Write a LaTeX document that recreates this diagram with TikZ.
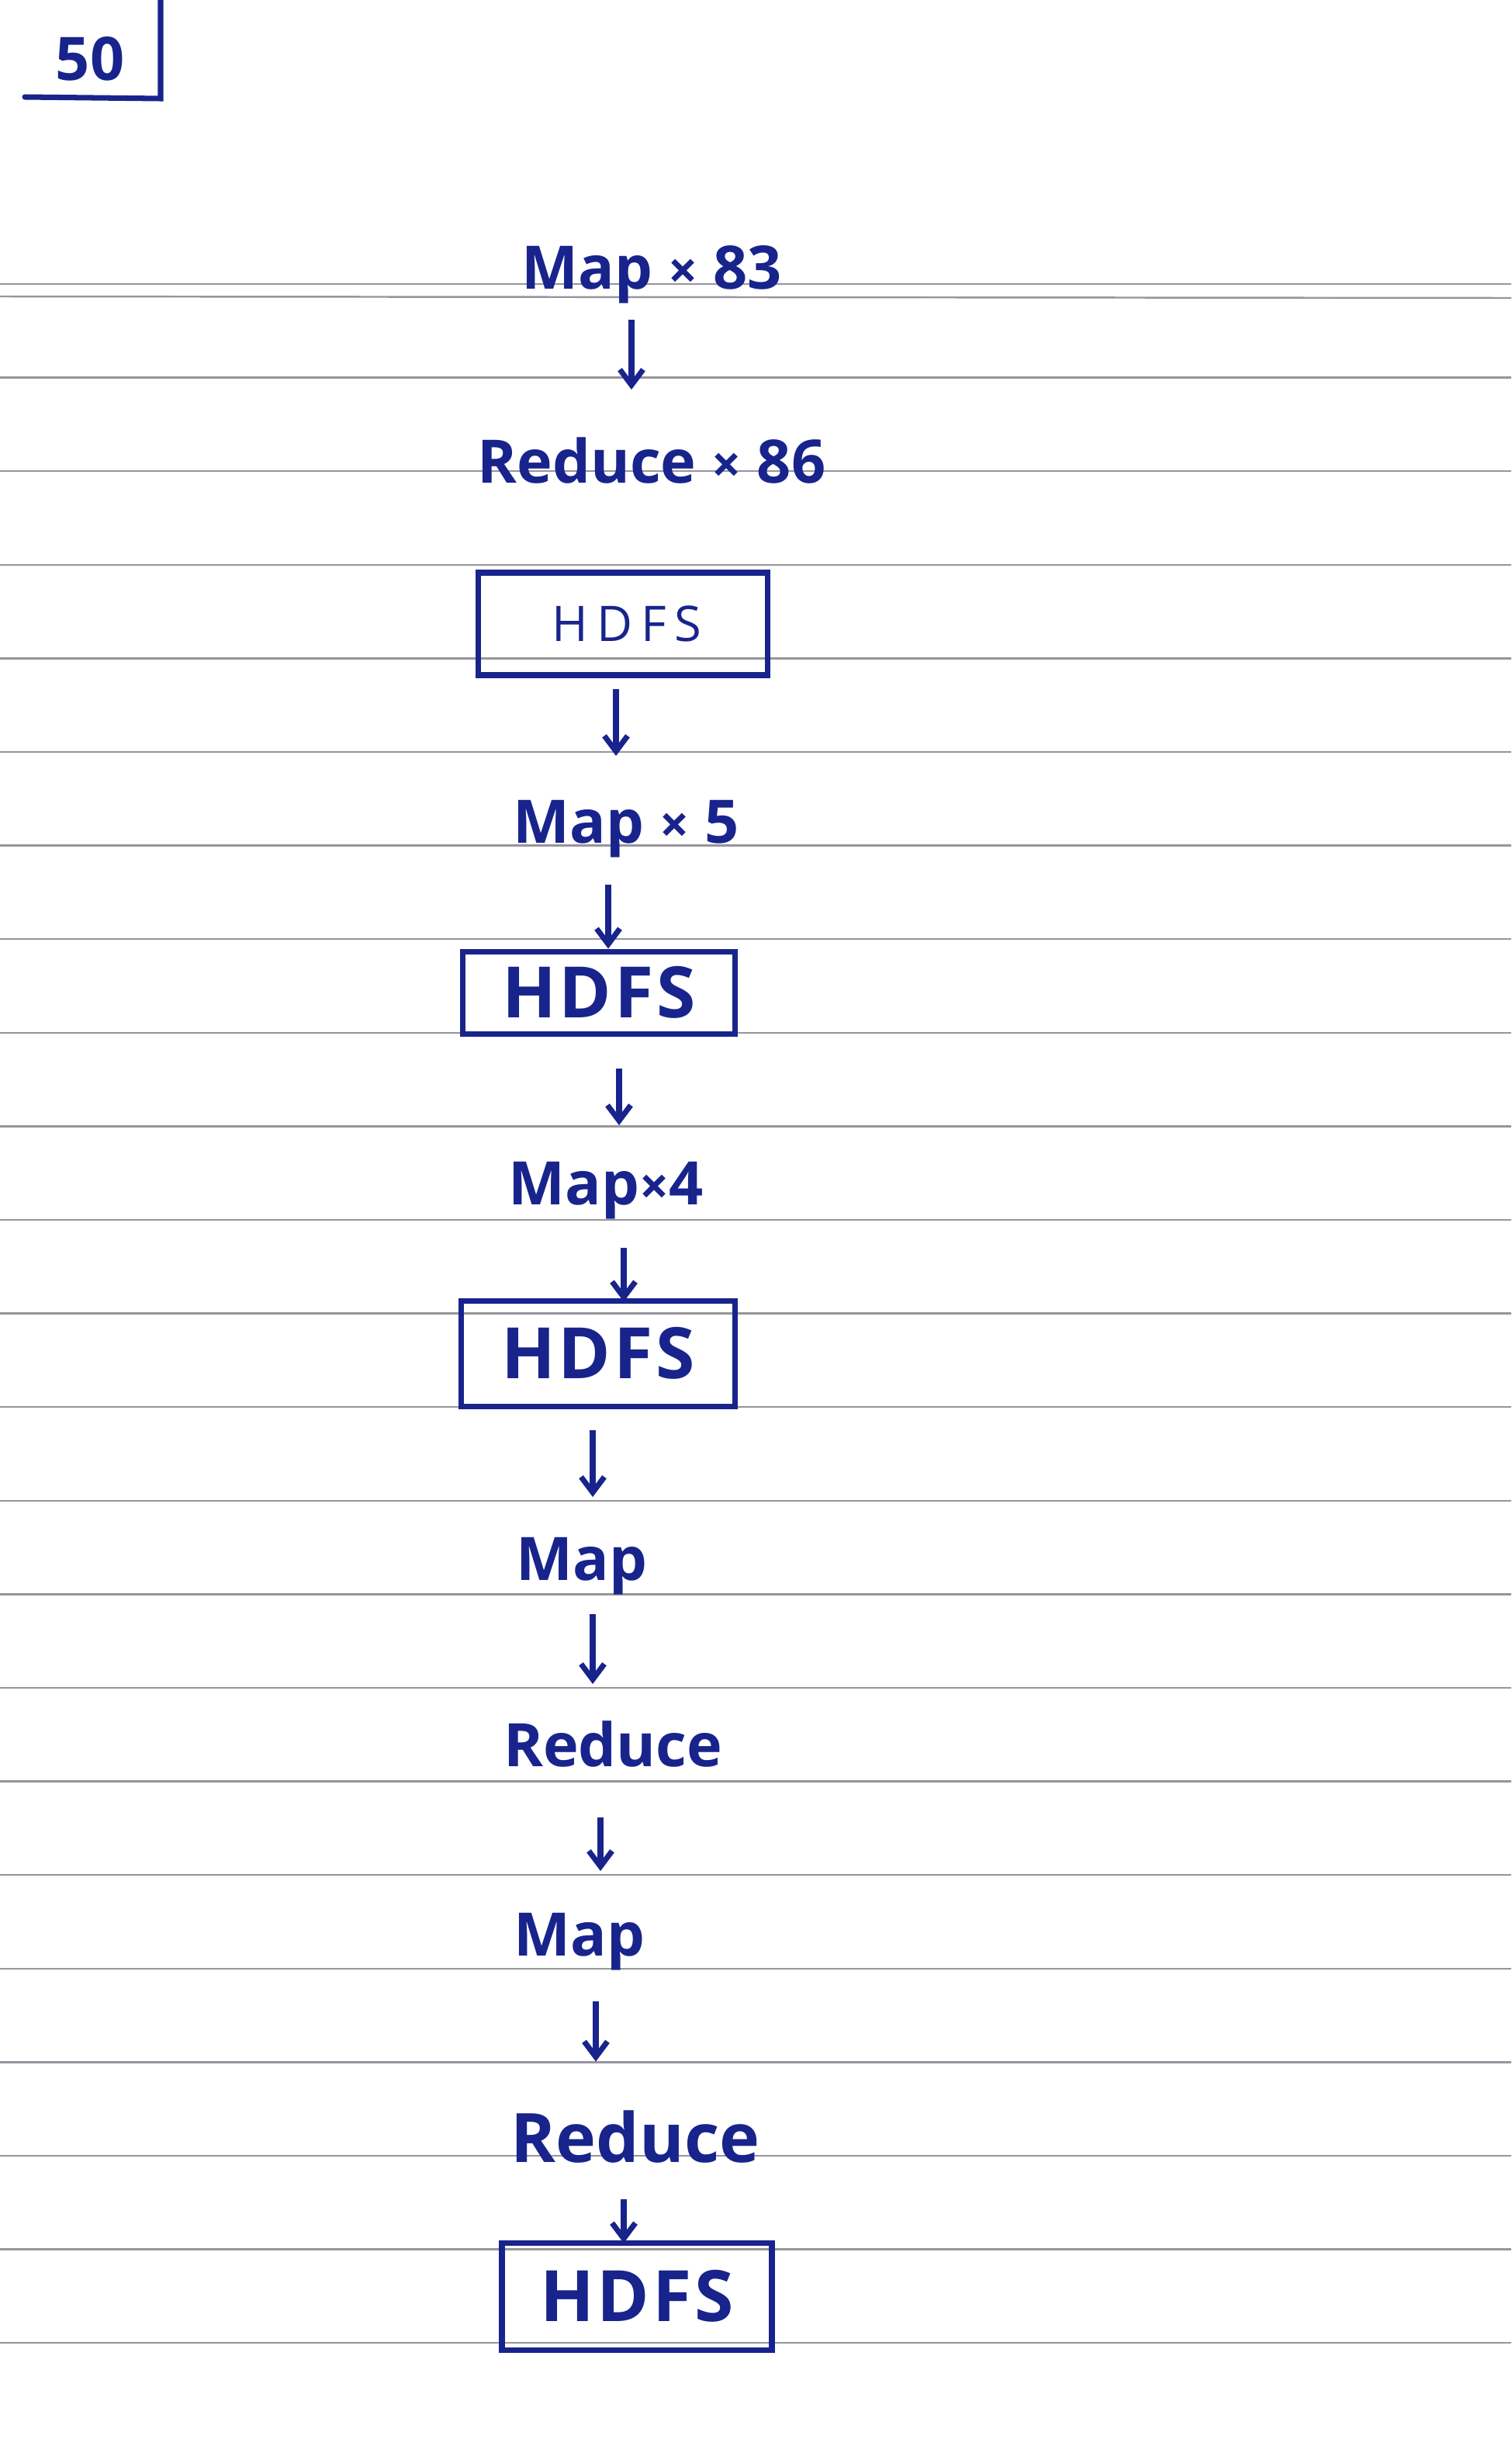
\documentclass[tikz,border=0pt]{standalone}
\usepackage{fontspec}
\setmainfont{Open Sans}
\usepackage{tikz}
\usetikzlibrary{arrows.meta,calc,positioning}
\definecolor{inkblue}{RGB}{24,36,140}
\definecolor{rulegrey}{RGB}{150,148,156}
\newcommand{\tms}{{\fontsize{19}{19}\selectfont\bfseries ×}}
\tikzset{
  steptext/.style={text=inkblue,font=\fontsize{22}{26}\selectfont\bfseries,anchor=base,
    inner sep=0pt,text height=16pt,text depth=5pt},
  hdfsbox/.style={draw=inkblue,line width=2pt,text=inkblue,
    font=\fontsize{26}{30}\selectfont\bfseries\addfontfeatures{LetterSpace=4},inner sep=0pt},
  flowarrow/.style={draw=inkblue,line width=2pt,-{Straight Barb[length=2mm,width=3mm,line width=2pt]}},
  ruleline/.style={draw=rulegrey,line width=0.7pt}
}

\begin{document}
\begin{tikzpicture}
  \useasboundingbox (0,0) rectangle (19.48,-31.52);

  % --- Ruled paper ---
  \foreach \i in {0,...,22}
    \draw[ruleline] (0,{-3.66-1.206*\i}) -- (19.48,{-3.66-1.206*\i});
  \draw[ruleline] (0,-3.82) -- (19.48,-3.84);

  % --- Page number corner ---
  \node[text=inkblue,font=\fontsize{22}{26}\selectfont\bfseries] (page) at (1.16,-0.76) {50};
  \draw[draw=inkblue,line width=2pt,line cap=round]
    (0.32,-1.25) -- (2.07,-1.27) -- (2.07,0);

  % --- Job chain ---
  \node[steptext] (m1) at (8.40,-3.72) {Map \tms\ 83};
  \node[steptext] (r1) at (8.40,-6.22) {Reduce \tms\ 86};

  \node[hdfsbox,minimum width=3.73cm,minimum height=1.32cm,
    font=\fontsize{18}{22}\selectfont\mdseries\addfontfeatures{LetterSpace=17}] (h1) at (8.03,-8.04) {\hspace{0.1cm}HDFS};

  \node[steptext] (m2) at (8.07,-10.86) {Map \tms\ 5};

  \node[hdfsbox,minimum width=3.51cm,minimum height=1.06cm] (h2) at (7.72,-12.79) {HDFS};

  \node[steptext] (m3) at (7.81,-15.52) {Map\tms4};

  \node[hdfsbox,minimum width=3.53cm,minimum height=1.36cm] (h3) at (7.71,-17.44) {HDFS};

  \node[steptext] (m4) at (7.50,-20.36) {Map};
  \node[steptext] (r2) at (7.90,-22.76) {Reduce};
  \node[steptext] (m5) at (7.47,-25.20) {Map};
  \node[steptext,font=\fontsize{25}{29}\selectfont\bfseries,text height=19pt] (r3) at (8.19,-27.86) {Reduce};

  \node[hdfsbox,minimum width=3.48cm,minimum height=1.38cm] (h4) at (8.21,-29.59) {HDFS};

  % --- Arrows between steps ---
  \draw[flowarrow,shorten <=0.22cm,shorten >=0.63cm]
    ($(m1.south)+(-0.26,0)$) -- ($(m1.south |- r1.north)+(-0.26,0)$);
  \draw[flowarrow,shorten <=0.14cm,shorten >=0.55cm]
    ($(h1.south)+(-0.09,0)$) -- ($(h1.south |- m2.north)+(-0.09,0)$);
  \draw[flowarrow,shorten <=0.36cm]
    ($(m2.south)+(-0.23,0)$) -- ($(m2.south |- h2.north)+(-0.23,0)$);
  \draw[flowarrow,shorten <=0.41cm,shorten >=0.45cm]
    ($(h2.south)+(0.26,0)$) -- ($(h2.south |- m3.north)+(0.26,0)$);
  \draw[flowarrow,shorten <=0.38cm,shorten >=-0.05cm]
    ($(m3.south)+(0.23,0)$) -- ($(m3.south |- h3.north)+(0.23,0)$);
  \draw[flowarrow,shorten <=0.27cm,shorten >=0.50cm]
    ($(h3.south)+(-0.07,0)$) -- ($(h3.south |- m4.north)+(-0.07,0)$);
  \draw[flowarrow,shorten <=0.26cm,shorten >=0.49cm]
    ($(m4.south)+(0.14,0)$) -- ($(m4.south |- r2.north)+(0.14,0)$);
  \draw[flowarrow,shorten <=0.48cm,shorten >=0.52cm]
    ($(r2.south)+(-0.16,0)$) -- ($(r2.south |- m5.north)+(-0.16,0)$);
  \draw[flowarrow,shorten <=0.41cm,shorten >=0.62cm]
    ($(m5.south)+(0.21,0)$) -- ($(m5.south |- r3.north)+(0.21,0)$);
  \draw[flowarrow,shorten <=0.30cm,shorten >=-0.04cm]
    ($(r3.south)+(-0.15,0)$) -- ($(r3.south |- h4.north)+(-0.15,0)$);

\end{tikzpicture}
\end{document}
